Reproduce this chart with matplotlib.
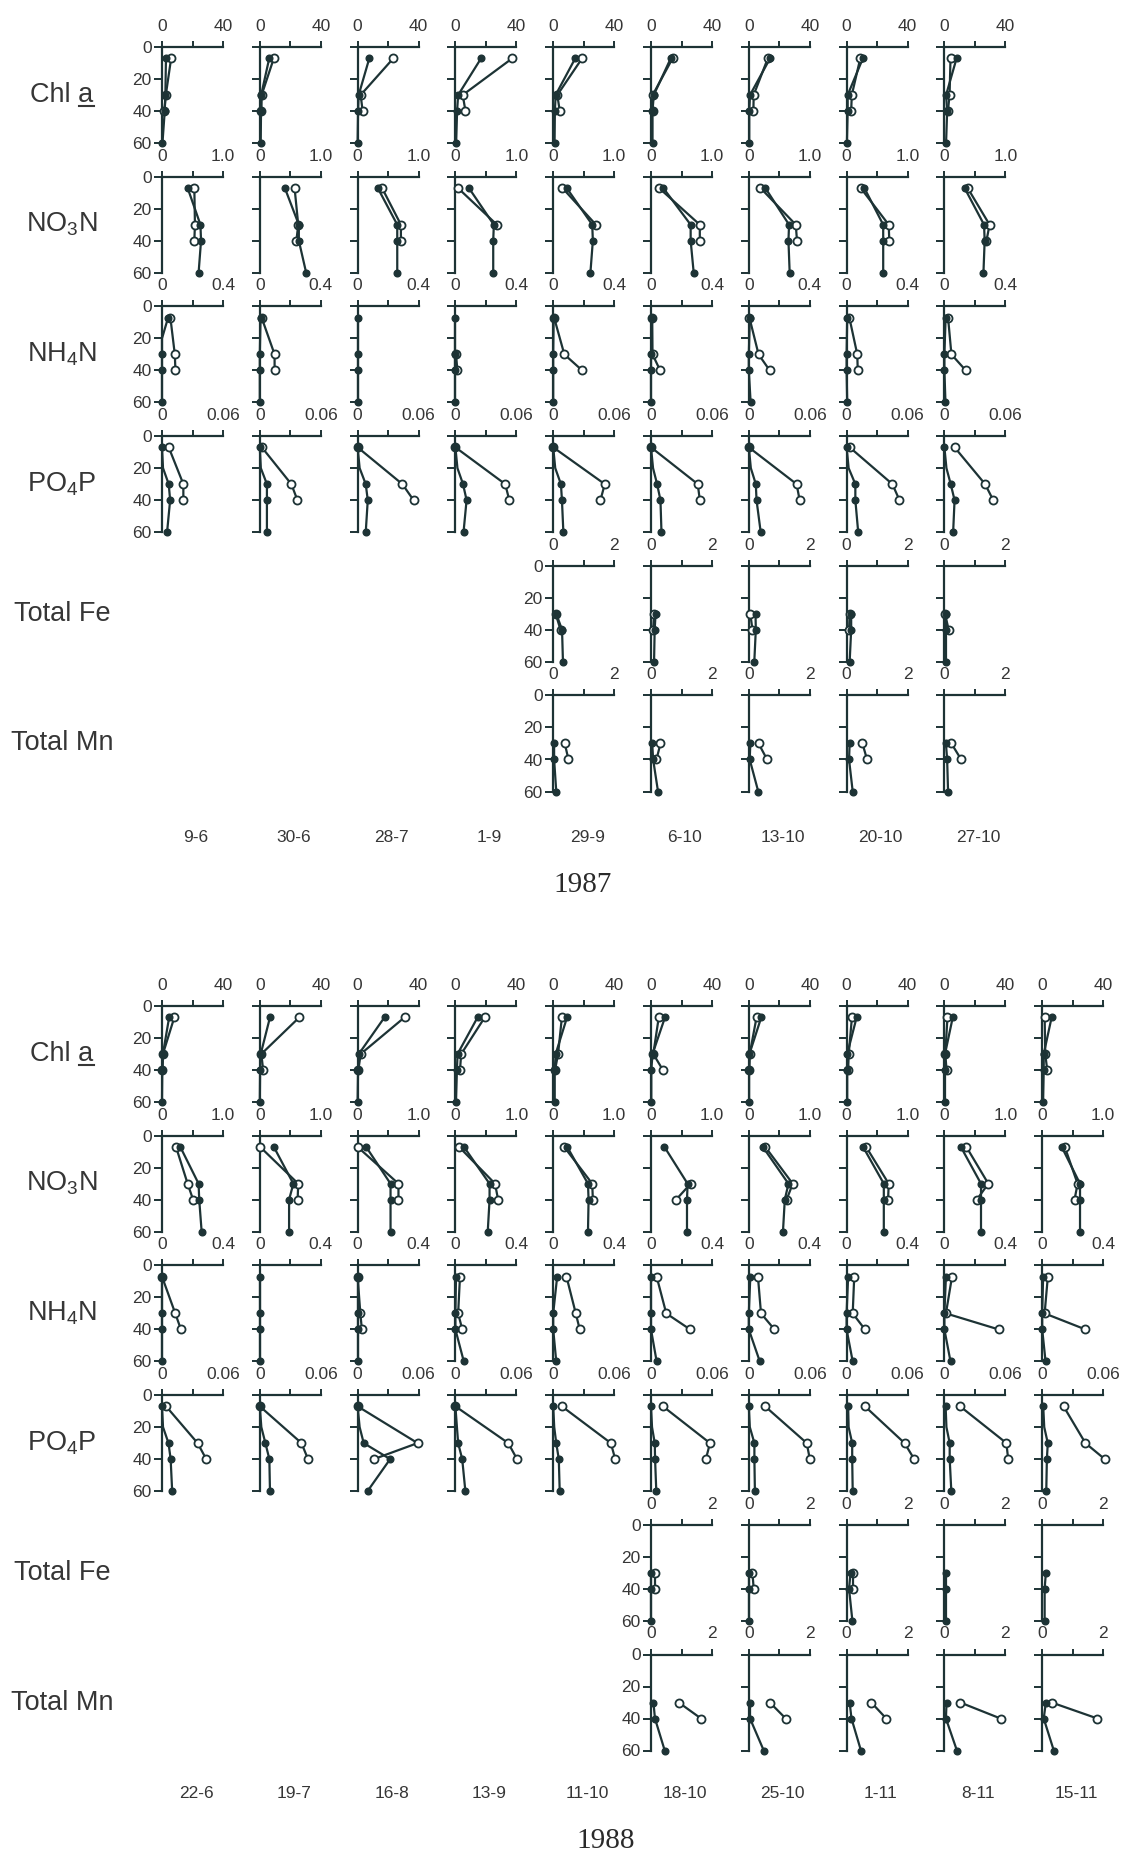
import numpy as np
import matplotlib
matplotlib.use("Agg")
import matplotlib.pyplot as plt
from matplotlib.lines import Line2D

# ---------------------------------------------------------------- data
DEPTH_FILLED = [7, 20, 30, 40, 60]   # deep station (filled symbols)
DEPTH_OPEN = [7, 30, 40]             # shallow station (open symbols)

DATES_1987 = ["9-6", "30-6", "28-7", "1-9", "29-9", "6-10", "13-10", "20-10", "27-10"]
DATES_1988 = ["22-6", "19-7", "16-8", "13-9", "11-10", "18-10", "25-10", "1-11", "8-11", "15-11"]

ROW_NAMES = ["Chl a", r"NO$_3$N", r"NH$_4$N", r"PO$_4$P", "Total Fe", "Total Mn"]
ROW_MAX = [40, 1.0, 0.4, 0.06, 2, 2]
ROW_MAX_LABEL = ["40", "1.0", "0.4", "0.06", "2", "2"]
DEPTH_TICKS = [0, 20, 40, 60]

# ---- 1987
CHL_1987_FILLED = [
    [2.6, None, 2.2, 1.8, 0.3], [6.2, None, 0.9, 0.8, 0.6], [7.7, None, 0.7, 0.3, 0.0],
    [16.9, None, 1.8, 1.1, 0.5], [14.5, None, 1.6, 1.1, 0.9], [13.0, None, 1.8, 1.0, 1.0],
    [14.0, None, 0.8, 0.3, 0.3], [10.7, None, 0.7, 0.7, 0.2], [8.0, None, 1.1, 1.8, 1.1]]
CHL_1987_OPEN = [
    [6.0, 2.5, 1.5], [9.2, 1.2, 1.0], [23.5, 2.0, 3.3], [37.4, 4.8, 6.6], [19.0, 2.7, 4.3],
    [14.2, 1.1, 1.0], [12.5, 3.2, 3.0], [9.0, 3.4, 3.0], [4.0, 3.4, 2.3]]

NO3_1987_FILLED = [
    [0.42, None, 0.63, 0.64, 0.60], [0.41, None, 0.64, 0.64, 0.76], [0.33, None, 0.65, 0.65, 0.65],
    [0.22, None, 0.63, 0.62, 0.62], [0.22, None, 0.64, 0.65, 0.61], [0.20, None, 0.65, 0.65, 0.70],
    [0.27, None, 0.66, 0.65, 0.67], [0.29, None, 0.60, 0.60, 0.60], [0.33, None, 0.65, 0.66, 0.64]]
NO3_1987_OPEN = [
    [0.53, 0.54, 0.53], [0.57, 0.63, 0.60], [0.40, 0.71, 0.71], [0.04, 0.68, None], [0.15, 0.70, None],
    [0.13, 0.80, 0.80], [0.19, 0.77, 0.79], [0.23, 0.69, 0.70], [0.38, 0.74, 0.69]]

NH4_1987_FILLED = [
    [0.040, 0.0, 0.0, 0.0, 0.0], [0.005, None, 0.0, 0.0, 0.0], [0.0, None, 0.0, 0.0, 0.0],
    [0.0, None, 0.0, 0.0, 0.0], [0.003, None, 0.0, 0.0, 0.0], [0.004, None, 0.0, 0.0, 0.0],
    [0.007, None, 0.0, 0.0, 0.012], [0.004, None, 0.0, 0.0, 0.004], [0.008, None, 0.0, 0.0, 0.007]]
NH4_1987_OPEN = [
    [0.055, 0.084, 0.088], [0.012, 0.097, 0.097], [None, None, None], [None, 0.004, 0.013],
    [0.006, 0.073, 0.19], [0.008, 0.010, 0.060], [0.004, 0.064, 0.137], [0.018, 0.070, 0.073],
    [0.024, 0.046, 0.14]]

PO4_1987_FILLED = [
    [0.0, 0.001, 0.0066, 0.0080, 0.0050], [0.0, 0.001, 0.0070, 0.0070, 0.0070],
    [0.0, 0.002, 0.0080, 0.0100, 0.0080], [0.0, 0.002, 0.0075, 0.0110, 0.0080],
    [0.0, 0.002, 0.0076, 0.0086, 0.0100], [0.0, 0.002, 0.0060, 0.0093, 0.0103],
    [0.0, 0.002, 0.0069, 0.0076, 0.0117], [0.0, 0.002, 0.0086, 0.0086, 0.0114],
    [0.0, 0.002, 0.0062, 0.0100, 0.0086]]
PO4_1987_OPEN = [
    [0.0066, 0.021, 0.021], [0.002, 0.031, 0.037], [0.0, 0.044, 0.055], [0.0, 0.049, 0.053],
    [0.0, 0.0507, 0.0465], [0.0, 0.046, 0.048], [0.0, 0.047, 0.050], [0.003, 0.045, 0.052],
    [0.010, 0.040, 0.048]]

FE_1987_FILLED = [None, None, None, None,
    [None, None, 0.10, 0.29, 0.32], [None, None, 0.15, 0.12, 0.10], [None, None, 0.22, 0.23, 0.18],
    [None, None, 0.15, 0.15, 0.10], [None, None, 0.05, 0.05, 0.05]]
FE_1987_OPEN = [None, None, None, None,
    [None, 0.08, 0.24], [None, 0.10, 0.07], [None, 0.05, 0.12], [None, 0.10, 0.08], [None, 0.02, 0.14]]

MN_1987_FILLED = [None, None, None, None,
    [None, None, 0.03, 0.03, 0.10], [None, None, 0.04, 0.07, 0.23], [None, None, 0.05, 0.03, 0.31],
    [None, None, 0.10, 0.08, 0.20], [None, None, 0.05, 0.09, 0.12]]
MN_1987_OPEN = [None, None, None, None,
    [None, 0.38, 0.50], [None, 0.31, 0.18], [None, 0.32, 0.60], [None, 0.52, 0.67], [None, 0.23, 0.55]]

# ---- 1988
CHL_1988_FILLED = [
    [4.7, None, 0.6, 0.2, 0.0], [6.7, None, 0.6, 0.2, 0.0], [17.7, None, 0.8, 0.3, 0.0],
    [14.6, None, 1.4, 1.0, 0.4], [9.1, None, 1.6, 1.0, 1.0], [9.2, None, 1.0, 0.2, 0.2],
    [8.2, None, 0.4, 0.2, 0.2], [6.6, None, 0.4, 0.4, 0.4], [5.5, None, 0.4, 0.4, 0.4],
    [6.2, None, 1.0, 1.0, 0.6]]
CHL_1988_OPEN = [
    [8.1, 0.6, 0.3], [26.0, 1.0, 2.2], [30.9, 2.0, 0.5], [19.3, 3.8, 3.0], [5.7, 3.2, 1.2],
    [5.1, 1.5, 7.8], [5.1, 0.6, 0.3], [3.5, 1.4, 1.0], [2.0, 0.6, 1.4], [1.6, 2.0, 3.3]]

NO3_1988_FILLED = [
    [0.30, None, 0.60, 0.61, 0.65], [0.23, None, 0.55, 0.48, 0.48], [0.14, None, 0.54, 0.54, 0.54],
    [0.14, None, 0.56, 0.56, 0.53], [0.23, None, 0.57, 0.58, 0.57], [0.22, None, 0.60, 0.59, 0.59],
    [0.23, None, 0.65, 0.59, 0.56], [0.27, None, 0.61, 0.61, 0.61], [0.27, None, 0.60, 0.60, 0.60],
    [0.32, None, 0.62, 0.62, 0.62]]
NO3_1988_OPEN = [
    [0.23, 0.42, 0.51], [0.005, 0.63, 0.62], [0.0, 0.67, 0.67], [0.06, 0.65, 0.70], [0.18, 0.64, 0.65],
    [None, 0.65, 0.41], [0.27, 0.72, 0.62], [0.32, 0.69, 0.68], [0.36, 0.72, 0.53], [0.37, 0.58, 0.53]]

NH4_1988_FILLED = [
    [0.0, None, 0.0, 0.0, 0.0], [0.0, None, 0.0, 0.0, 0.0], [0.0, None, 0.0, 0.0, 0.0],
    [0.004, None, 0.0, 0.0, 0.055], [0.026, None, 0.0, 0.0, 0.020], [0.0, None, 0.0, 0.0, 0.037],
    [0.010, None, 0.0, 0.0, 0.072], [0.010, None, 0.0, 0.0, 0.040], [0.010, None, 0.0, 0.0, 0.040],
    [0.006, None, 0.0, 0.0, 0.022]]
NH4_1988_OPEN = [
    [0.0, 0.087, 0.124], [None, None, None], [0.0, 0.018, 0.028], [0.03, 0.018, 0.045],
    [0.087, 0.148, 0.174], [0.037, 0.10, 0.256], [0.06, 0.08, 0.168], [0.05, 0.04, 0.12],
    [0.05, 0.01, 0.355], [0.037, 0.016, 0.283]]

PO4_1988_FILLED = [
    [0.0, 0.001, 0.0064, 0.0085, 0.0100], [0.0, 0.0015, 0.0055, 0.0094, 0.0100],
    [0.0, 0.002, 0.0060, 0.0320, 0.0098], [0.0, 0.0015, 0.0027, 0.0067, 0.0098],
    [0.0, 0.001, 0.0030, 0.0055, 0.0064], [0.0, 0.001, 0.0037, 0.0040, 0.0052],
    [0.0, 0.001, 0.0055, 0.0055, 0.0060], [0.0015, 0.002, 0.0055, 0.0055, 0.0060],
    [0.0012, 0.002, 0.0052, 0.0052, 0.0068], [0.001, 0.002, 0.0055, 0.0046, 0.0040]]
PO4_1988_OPEN = [
    [0.004, 0.035, 0.0435], [0.0, 0.041, 0.0474], [0.0, 0.059, 0.016], [0.0, 0.052, 0.0606],
    [0.0085, 0.0567, 0.061], [0.0117, 0.058, 0.054], [0.016, 0.057, 0.060], [0.018, 0.057, 0.0665],
    [0.0154, 0.061, 0.0627], [0.021, 0.0425, 0.0615]]

FE_1988_FILLED = [None, None, None, None, None,
    [None, None, 0.0, 0.0, 0.0], [None, None, 0.02, 0.02, 0.02], [None, None, 0.13, 0.08, 0.19],
    [None, None, 0.05, 0.05, 0.05], [None, None, 0.12, 0.08, 0.08]]
FE_1988_OPEN = [None, None, None, None, None,
    [None, 0.13, 0.13], [None, 0.12, 0.16], [None, 0.21, 0.21], [None, None, None], [None, None, None]]

MN_1988_FILLED = [None, None, None, None, None,
    [None, None, 0.08, 0.13, 0.45], [None, None, 0.04, 0.04, 0.49], [None, None, 0.10, 0.16, 0.47],
    [None, None, 0.07, 0.05, 0.41], [None, None, 0.12, 0.05, 0.38]]
MN_1988_OPEN = [None, None, None, None, None,
    [None, 0.91, 1.64], [None, 0.69, 1.21], [None, 0.81, 1.30], [None, 0.52, 1.84], [None, 0.31, 1.81]]

YEARS = [
    ("1987", DATES_1987,
     [CHL_1987_FILLED, NO3_1987_FILLED, NH4_1987_FILLED, PO4_1987_FILLED, FE_1987_FILLED, MN_1987_FILLED],
     [CHL_1987_OPEN, NO3_1987_OPEN, NH4_1987_OPEN, PO4_1987_OPEN, FE_1987_OPEN, MN_1987_OPEN]),
    ("1988", DATES_1988,
     [CHL_1988_FILLED, NO3_1988_FILLED, NH4_1988_FILLED, PO4_1988_FILLED, FE_1988_FILLED, MN_1988_FILLED],
     [CHL_1988_OPEN, NO3_1988_OPEN, NH4_1988_OPEN, PO4_1988_OPEN, FE_1988_OPEN, MN_1988_OPEN]),
]

# ---------------------------------------------------------------- layout (pixels)
W, H, DPI = 1129, 1854, 100
INK = "#1d3335"
TXT = "#363636"
SANS = "Liberation Sans"

COL0_X = 162.0
COL_STEP = 97.8
PANEL_W = 61.0
DEPTH_SPAN = 96.0
ROW_STEP = 129.7
BLOCK_TOP = [47.0, 1006.0]
DATE_Y = [837.0, 1793.0]
YEAR_POS = [(583.0, 885.0), (606.0, 1841.0)]
LABEL_X = 62.0

plt.rcParams["font.family"] = [SANS, "DejaVu Sans"]
plt.rcParams["mathtext.fontset"] = "custom"
plt.rcParams["mathtext.rm"] = SANS
plt.rcParams["mathtext.it"] = SANS + ":italic"

fig = plt.figure(figsize=(W / DPI, H / DPI), dpi=DPI)
fig.patch.set_facecolor("white")


def fx(px):
    return px / W


def fy(py):
    return 1.0 - py / H


def draw_panel(x0, ytop, row, filled, opened, show_depth_labels):
    xmax = ROW_MAX[row]
    ax = fig.add_axes([fx(x0), fy(ytop + DEPTH_SPAN), PANEL_W / W, DEPTH_SPAN / H])
    ax.patch.set_alpha(0)
    ax.set_xlim(0, xmax)
    ax.set_ylim(60, 0)
    for side in ("right", "bottom"):
        ax.spines[side].set_visible(False)
    for side in ("left", "top"):
        ax.spines[side].set_color(INK)
        ax.spines[side].set_linewidth(1.6)
    ax.xaxis.set_ticks_position("top")
    ax.set_xticks([0, xmax / 2, xmax])
    ax.set_xticklabels(["0", "", ROW_MAX_LABEL[row]])
    ax.set_yticks(DEPTH_TICKS)
    ax.set_yticklabels([str(t) for t in DEPTH_TICKS] if show_depth_labels else [""] * 4)
    ax.tick_params(axis="x", direction="out", length=4, width=1.4, color=INK,
                   labelcolor=TXT, labelsize=12.5, pad=5.5)
    ax.tick_params(axis="y", direction="out", length=6, width=1.4, color=INK,
                   labelcolor=TXT, labelsize=12.5, pad=1.5)

    d_f = np.array(DEPTH_FILLED, dtype=float)
    v_f = np.array(filled, dtype=float)
    m = np.isfinite(v_f)
    ax.plot(v_f[m], d_f[m], color=INK, lw=1.6, clip_on=False, zorder=3,
            solid_capstyle="round")
    mk = m & (d_f != 20)
    ax.plot(v_f[mk], d_f[mk], "o", ms=4.8, mfc=INK, mec=INK, clip_on=False, zorder=5)

    d_o = np.array(DEPTH_OPEN, dtype=float)
    v_o = np.array(opened, dtype=float)
    m = np.isfinite(v_o)
    if m.any():
        ax.plot(v_o[m], d_o[m], "-o", color=INK, lw=1.6, ms=5.8, mfc="white", mec=INK,
                mew=1.3, clip_on=False, zorder=4)


for b, (year, dates, filled_rows, open_rows) in enumerate(YEARS):
    top = BLOCK_TOP[b]
    for r in range(6):
        ytop = top + r * ROW_STEP
        first = True
        for c in range(len(dates)):
            fv = filled_rows[r][c]
            if fv is None:
                continue
            draw_panel(COL0_X + c * COL_STEP, ytop, r, fv, open_rows[r][c], first)
            first = False
        fig.text(fx(LABEL_X), fy(ytop + DEPTH_SPAN / 2), ROW_NAMES[r], ha="center",
                 va="center", fontsize=19.5, color=TXT, family=SANS)
    for c, d in enumerate(dates):
        fig.text(fx(COL0_X + c * COL_STEP + 34), fy(DATE_Y[b]), d, ha="center",
                 va="center", fontsize=12.5, color=TXT, family=SANS)
    fig.text(fx(YEAR_POS[b][0]), fy(YEAR_POS[b][1]), year, ha="center", va="center",
             fontsize=21, color="#2a2a2a", family="Liberation Serif")

# underline the "a" of "Chl a"
renderer = fig.canvas.get_renderer()
for t in list(fig.texts):
    if t.get_text() == "Chl a":
        bb = t.get_window_extent(renderer)
        probe = fig.text(0, 0, "a", fontsize=19.5, family=SANS)
        wa = probe.get_window_extent(renderer).width
        probe.remove()
        y = bb.y0 + 2.5
        inv = fig.transFigure.inverted()
        (x0f, yf), (x1f, _) = inv.transform([(bb.x1 - wa, y), (bb.x1, y)])
        fig.add_artist(Line2D([x0f, x1f], [yf, yf], transform=fig.transFigure,
                              color=TXT, lw=1.5))

fig.savefig("out.png", dpi=DPI, facecolor="white")
